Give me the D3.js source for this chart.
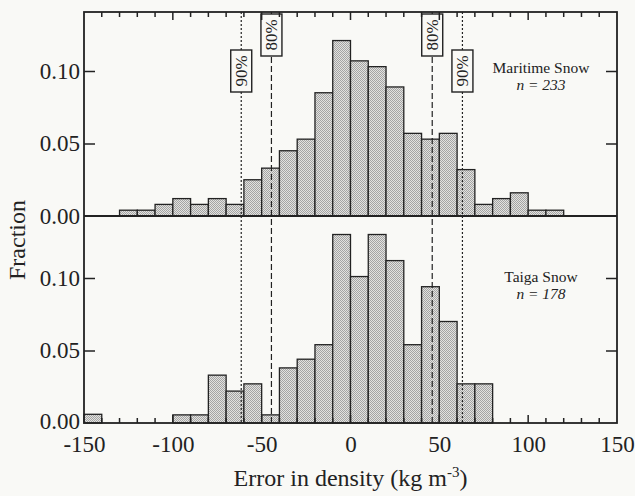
<!DOCTYPE html>
<html>
<head>
<meta charset="utf-8">
<script src="https://cdn.jsdelivr.net/npm/d3@7"></script>
<style>
	body { margin: 0; background: #f9f9f6; }
	svg { display: block; font-family: "Liberation Serif", "Times New Roman", serif; }
</style>
</head>
<body>
<script>
// lower edge of each 10 kg m-3 bin
var binStarts = [-150, -140, -130, -120, -110, -100, -90, -80, -70, -60, -50, -40, -30, -20, -10,
	0, 10, 20, 30, 40, 50, 60, 70, 80, 90, 100, 110, 120, 130, 140];
var maritime = [0, 0, 0.004, 0.004, 0.008, 0.012, 0.008, 0.012, 0.008, 0.025, 0.033, 0.045, 0.053, 0.085, 0.121,
	0.107, 0.103, 0.089, 0.057, 0.053, 0.057, 0.032, 0.008, 0.012, 0.016, 0.004, 0.004, 0, 0, 0];
var taiga = [0.006, 0, 0, 0, 0, 0.0056, 0.0056, 0.033, 0.022, 0.027, 0.0056, 0.038, 0.044, 0.054, 0.130,
	0.101, 0.130, 0.112, 0.054, 0.094, 0.070, 0.027, 0.027, 0, 0, 0, 0, 0, 0, 0];
var binWidth = 10;
var xTicks = [-150, -100, -50, 0, 50, 100, 150];
var yTicks = [0, 0.05, 0.10];
var limits = [
	{ value: -61.5, label: '90%', style: 'dotted' },
	{ value: -44.5, label: '80%', style: 'dashed' },
	{ value: 46, label: '80%', style: 'dashed' },
	{ value: 63, label: '90%', style: 'dotted' }
];
var panels = [
	{ name: 'Maritime Snow', n: 233, values: maritime },
	{ name: 'Taiga Snow', n: 178, values: taiga }
];

var SIZE = { width: 635, height: 496 };
var FRAME = { left: 84, right: 617, top: 12, mid: 216, bottom: 423 };
var PX_PER_UNIT = 1450;
var INK = '#222';
var BG = '#f9f9f6';

var svg = d3.select('body').append('svg')
	.attr('width', SIZE.width)
	.attr('height', SIZE.height);

// stippled grey fill like the printed halftone
var pattern = svg.append('defs').append('pattern')
	.attr('id', 'stipple')
	.attr('width', 2).attr('height', 2)
	.attr('patternUnits', 'userSpaceOnUse');
pattern.append('rect').attr('width', 2).attr('height', 2).attr('fill', '#e2e2df');
pattern.append('rect').attr('width', 1).attr('height', 1).attr('fill', '#a4a4a4');
pattern.append('rect').attr('x', 1).attr('y', 1).attr('width', 1).attr('height', 1).attr('fill', '#a4a4a4');

var x = d3.scaleLinear().domain([-150, 150]).range([FRAME.left, FRAME.right]);

var yTop = d3.scaleLinear()
	.domain([0, (FRAME.mid - FRAME.top) / PX_PER_UNIT])
	.range([FRAME.mid, FRAME.top]);
var yBottom = d3.scaleLinear()
	.domain([0, (FRAME.bottom - FRAME.mid) / PX_PER_UNIT])
	.range([FRAME.bottom, FRAME.mid]);
var yScales = [yTop, yBottom];

panels.forEach(function (panel, i) {
	drawBars(panel, yScales[i]);
});

drawLimits();
drawFrame();

panels.forEach(function (panel, i) {
	drawYAxis(yScales[i], i);
	drawPanelLabel(panel, i);
});

drawXAxis();
drawTitles();

function drawBars(panel, y) {
	var data = binStarts.map(function (b, i) { return { start: b, value: panel.values[i] }; })
		.filter(function (d) { return d.value > 0; });

	svg.append('g').selectAll('rect')
		.data(data)
		.enter()
		.append('rect')
		.attr('x', function (d) { return x(d.start); })
		.attr('width', function (d) { return x(d.start + binWidth) - x(d.start); })
		.attr('y', function (d) { return y(d.value); })
		.attr('height', function (d) { return y(0) - y(d.value); })
		.attr('fill', 'url(#stipple)')
		.attr('stroke', INK)
		.attr('stroke-width', 1.3);
}

function drawLimits() {
	var g = svg.append('g');
	g.selectAll('line')
		.data(limits)
		.enter()
		.append('line')
		.attr('x1', function (d) { return x(d.value); })
		.attr('x2', function (d) { return x(d.value); })
		.attr('y1', FRAME.top)
		.attr('y2', FRAME.bottom)
		.attr('stroke', INK)
		.attr('stroke-width', 1.2)
		.attr('stroke-dasharray', function (d) { return d.style === 'dotted' ? '2,2' : '6,3'; });

	var boxes = g.selectAll('g.box')
		.data(limits)
		.enter()
		.append('g')
		.classed('box', true)
		.attr('transform', function (d) {
			return 'translate(' + x(d.value) + ',' + (d.style === 'dotted' ? 71 : 35) + ')';
		});

	boxes.append('rect')
		.attr('x', -10.5).attr('y', -21)
		.attr('width', 21).attr('height', 42)
		.attr('fill', BG)
		.attr('stroke', INK)
		.attr('stroke-width', 1.4);

	boxes.append('text')
		.attr('transform', 'rotate(-90)')
		.attr('text-anchor', 'middle')
		.attr('dy', '0.35em')
		.attr('font-size', 17)
		.attr('fill', INK)
		.text(function (d) { return d.label; });
}

function drawFrame() {
	svg.append('rect')
		.attr('x', FRAME.left).attr('y', FRAME.top)
		.attr('width', FRAME.right - FRAME.left)
		.attr('height', FRAME.bottom - FRAME.top)
		.attr('fill', 'none')
		.attr('stroke', INK)
		.attr('stroke-width', 1.8);

	svg.append('line')
		.attr('x1', FRAME.left).attr('x2', FRAME.right)
		.attr('y1', FRAME.mid).attr('y2', FRAME.mid)
		.attr('stroke', INK)
		.attr('stroke-width', 1.8);
}

function drawYAxis(y, i) {
	var left = svg.append('g')
		.attr('transform', 'translate(' + FRAME.left + ',0)')
		.call(d3.axisLeft(y).tickValues(yTicks).tickSize(-11).tickPadding(4).tickFormat(d3.format('.2f')));
	left.select('.domain').remove();
	left.selectAll('line').attr('stroke', INK).attr('stroke-width', 1.5)
		.filter(function (d) { return d === 0; }).remove();
	left.selectAll('text')
		.attr('x', -4)
		.attr('dy', function (d) { return (i === 1 && d === 0) ? '0.25em' : '0.32em'; })
		.attr('font-size', 23).attr('fill', INK).attr('font-family', 'Liberation Serif');

	var right = svg.append('g')
		.attr('transform', 'translate(' + FRAME.right + ',0)')
		.call(d3.axisRight(y).tickValues(yTicks.filter(function (v) { return v > 0; })).tickSize(-11).tickFormat(''));
	right.select('.domain').remove();
	right.selectAll('line').attr('stroke', INK).attr('stroke-width', 1.5);
}

function drawPanelLabel(panel, i) {
	var cy = i === 0 ? 68 : 277;
	svg.append('text')
		.attr('x', 541).attr('y', cy)
		.attr('text-anchor', 'middle')
		.attr('dy', '0.35em')
		.attr('font-size', 15.5)
		.attr('fill', INK)
		.text(panel.name);

	var t = svg.append('text')
		.attr('x', 541).attr('y', cy + 17)
		.attr('text-anchor', 'middle')
		.attr('dy', '0.35em')
		.attr('font-size', 15.5)
		.attr('fill', INK)
		.attr('font-style', 'italic');
	t.text('n = ' + panel.n);
}

function drawXAxis() {
	var minor = d3.range(-140, 150, 10);

	var bottom = svg.append('g')
		.attr('transform', 'translate(0,' + FRAME.bottom + ')');
	bottom.call(d3.axisBottom(x).tickValues(xTicks).tickSize(0).tickPadding(13)
		.tickFormat(function (d) { return String(d); }));
	bottom.select('.domain').remove();
	bottom.selectAll('text').attr('font-size', 23).attr('fill', INK).attr('font-family', 'Liberation Serif');

	svg.append('g').selectAll('line')
		.data(minor)
		.enter()
		.append('line')
		.attr('x1', function (d) { return x(d); })
		.attr('x2', function (d) { return x(d); })
		.attr('y1', FRAME.bottom)
		.attr('y2', function (d) { return FRAME.bottom - (d % 50 === 0 ? 8 : 5); })
		.attr('stroke', INK)
		.attr('stroke-width', 1.5);

	svg.append('g').selectAll('line')
		.data(minor)
		.enter()
		.append('line')
		.attr('x1', function (d) { return x(d); })
		.attr('x2', function (d) { return x(d); })
		.attr('y1', FRAME.top)
		.attr('y2', function (d) { return FRAME.top + (d % 50 === 0 ? 8 : 5); })
		.attr('stroke', INK)
		.attr('stroke-width', 1.5);
}

function drawTitles() {
	var xt = svg.append('text')
		.attr('x', (FRAME.left + FRAME.right) / 2)
		.attr('y', 486)
		.attr('text-anchor', 'middle')
		.attr('font-size', 24)
		.attr('fill', INK);
	xt.append('tspan').text('Error in density (kg m');
	xt.append('tspan').attr('dy', -9).attr('font-size', 15).text('-3');
	xt.append('tspan').attr('dy', 9).text(')');

	svg.append('text')
		.attr('transform', 'translate(25,240) rotate(-90)')
		.attr('text-anchor', 'middle')
		.attr('font-size', 24)
		.attr('fill', INK)
		.text('Fraction');
}
</script>
</body>
</html>
